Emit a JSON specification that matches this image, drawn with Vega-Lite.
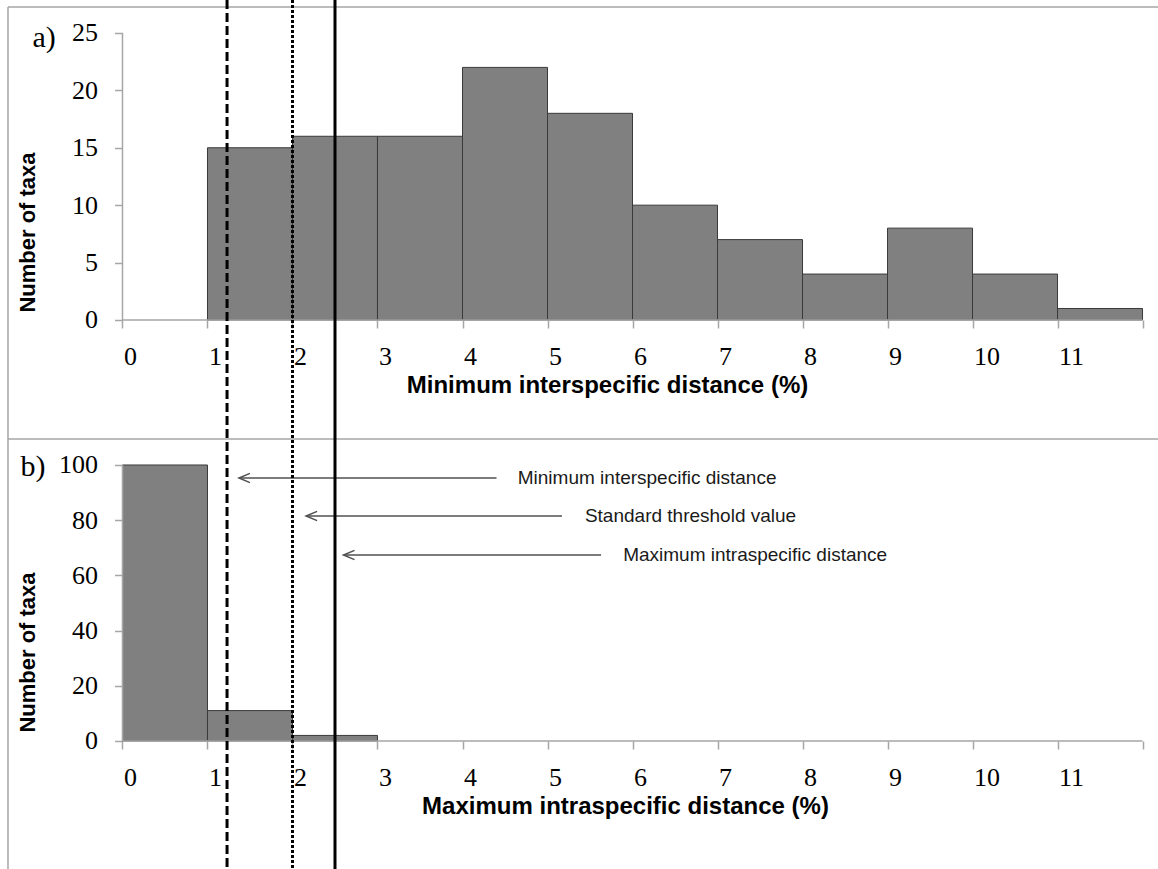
{
  "$schema": "https://vega.github.io/schema/vega-lite/v6.json",
  "width": 1158,
  "height": 869,
  "autosize": "none",
  "padding": 0,
  "background": "white",
  "config": {
    "view": {"stroke": null},
    "axis": {
      "grid": false,
      "domain": false,
      "tickColor": "#a6a6a6",
      "tickWidth": 1.5,
      "tickSize": 8,
      "labelColor": "#000000",
      "labelFont": "Liberation Serif",
      "labelFontSize": 26,
      "labelFlush": false,
      "labelOverlap": false,
      "format": "d",
      "titleFont": "Liberation Sans",
      "titleFontWeight": "bold",
      "titleColor": "#000000"
    }
  },
  "datasets": {
    "interspecific": [
      {"bin_start": 1, "bin_end": 2, "taxa": 15},
      {"bin_start": 2, "bin_end": 3, "taxa": 16},
      {"bin_start": 3, "bin_end": 4, "taxa": 16},
      {"bin_start": 4, "bin_end": 5, "taxa": 22},
      {"bin_start": 5, "bin_end": 6, "taxa": 18},
      {"bin_start": 6, "bin_end": 7, "taxa": 10},
      {"bin_start": 7, "bin_end": 8, "taxa": 7},
      {"bin_start": 8, "bin_end": 9, "taxa": 4},
      {"bin_start": 9, "bin_end": 10, "taxa": 8},
      {"bin_start": 10, "bin_end": 11, "taxa": 4},
      {"bin_start": 11, "bin_end": 12, "taxa": 1}
    ],
    "intraspecific": [
      {"bin_start": 0, "bin_end": 1, "taxa": 100},
      {"bin_start": 1, "bin_end": 2, "taxa": 11},
      {"bin_start": 2, "bin_end": 3, "taxa": 2}
    ],
    "thresholds": [
      {"name": "Minimum interspecific distance", "value": 1.23},
      {"name": "Standard threshold value", "value": 2.0},
      {"name": "Maximum intraspecific distance", "value": 2.5}
    ],
    "notes": [
      {"name": "Minimum interspecific distance", "arrow_tail": 4.4, "arrow_tip": 1.37, "text_x": 4.65, "y": 95.3},
      {"name": "Standard threshold value", "arrow_tail": 5.17, "arrow_tip": 2.16, "text_x": 5.44, "y": 81.5},
      {"name": "Maximum intraspecific distance", "arrow_tail": 5.63, "arrow_tip": 2.6, "text_x": 5.89, "y": 67.4}
    ]
  },
  "layer": [
    {
      "layer": [
        {
          "data": {"values": [{}]},
          "mark": {"type": "rule", "color": "#a6a6a6", "strokeWidth": 1.5},
          "encoding": {
            "x": {"datum": -1.347, "type": "quantitative", "scale": {"domain": [-1.441, 12.182], "nice": false, "zero": false}},
            "x2": {"datum": 12.182},
            "y": {"datum": 27.26, "type": "quantitative", "scale": {"domain": [-47.82, 27.87], "nice": false, "zero": false}}
          }
        },
        {
          "data": {"values": [{}]},
          "mark": {"type": "rule", "color": "#a6a6a6", "strokeWidth": 1.5},
          "encoding": {
            "x": {"datum": -1.347, "type": "quantitative", "scale": {"domain": [-1.441, 12.182], "nice": false, "zero": false}},
            "x2": {"datum": 12.182},
            "y": {"datum": -10.37, "type": "quantitative", "scale": {"domain": [-47.82, 27.87], "nice": false, "zero": false}}
          }
        },
        {
          "data": {"values": [{}]},
          "mark": {"type": "rule", "color": "#a6a6a6", "strokeWidth": 1.5},
          "encoding": {
            "x": {"datum": -1.347, "type": "quantitative", "scale": {"domain": [-1.441, 12.182], "nice": false, "zero": false}},
            "y": {"datum": 27.26, "type": "quantitative", "scale": {"domain": [-47.82, 27.87], "nice": false, "zero": false}},
            "y2": {"datum": -47.82}
          }
        },
        {
          "data": {"name": "interspecific"},
          "mark": {"type": "rect", "fill": "#808080", "stroke": "#3a3a3a", "strokeWidth": 1},
          "encoding": {
            "x": {
              "field": "bin_start", "type": "quantitative",
              "scale": {"domain": [-1.441, 12.182], "nice": false, "zero": false},
              "axis": {
                "orient": "bottom", "offset": -549,
                "values": [0, 1, 2, 3, 4, 5, 6, 7, 8, 9, 10, 11, 12],
                "labelExpr": "datum.value == 12 ? '' : datum.label",
                "labelAlign": "left", "labelOffset": 1, "labelPadding": 15,
                "title": "Minimum interspecific distance (%)",
                "titleFontSize": 24, "titleX": 607, "titleY": 65,
                "titleBaseline": "middle", "titleAlign": "center"
              }
            },
            "x2": {"field": "bin_end"},
            "y": {
              "field": "taxa", "type": "quantitative",
              "scale": {"domain": [-47.82, 27.87], "nice": false, "zero": false},
              "axis": {
                "orient": "left", "offset": -122.5,
                "values": [0, 5, 10, 15, 20, 25],
                "labelPadding": 17,
                "title": "Number of taxa",
                "titleFontSize": 22, "titleAngle": 270, "titleBaseline": "middle", "titleAlign": "center",
                "titleX": -95.5, "titleY": 232
              }
            },
            "y2": {"datum": 0}
          }
        },
        {
          "data": {"values": [{}]},
          "mark": {"type": "rule", "color": "#a6a6a6", "strokeWidth": 1.5},
          "encoding": {
            "x": {"datum": 0, "type": "quantitative", "scale": {"domain": [-1.441, 12.182], "nice": false, "zero": false}},
            "y": {"datum": 0, "type": "quantitative", "scale": {"domain": [-47.82, 27.87], "nice": false, "zero": false}},
            "y2": {"datum": 25}
          }
        },
        {
          "data": {"values": [{}]},
          "mark": {"type": "rule", "color": "#a6a6a6", "strokeWidth": 1.5},
          "encoding": {
            "x": {"datum": 0, "type": "quantitative", "scale": {"domain": [-1.441, 12.182], "nice": false, "zero": false}},
            "x2": {"datum": 12},
            "y": {"datum": 0, "type": "quantitative", "scale": {"domain": [-47.82, 27.87], "nice": false, "zero": false}}
          }
        },
        {
          "data": {"values": [{"panel": "a)"}]},
          "mark": {"type": "text", "font": "Liberation Serif", "fontSize": 30, "align": "left", "baseline": "middle", "color": "#000000"},
          "encoding": {
            "x": {"datum": -1.06, "type": "quantitative", "scale": {"domain": [-1.441, 12.182], "nice": false, "zero": false}},
            "y": {"datum": 24.6, "type": "quantitative", "scale": {"domain": [-47.82, 27.87], "nice": false, "zero": false}},
            "text": {"field": "panel"}
          }
        }
      ]
    },
    {
      "layer": [
        {
          "data": {"name": "intraspecific"},
          "mark": {"type": "rect", "fill": "#808080", "stroke": "#3a3a3a", "strokeWidth": 1},
          "encoding": {
            "x": {
              "field": "bin_start", "type": "quantitative",
              "scale": {"domain": [-1.441, 12.182], "nice": false, "zero": false},
              "axis": {
                "orient": "bottom", "offset": -128,
                "values": [0, 1, 2, 3, 4, 5, 6, 7, 8, 9, 10, 11, 12],
                "labelExpr": "datum.value == 12 ? '' : datum.label",
                "labelAlign": "left", "labelOffset": 1, "labelPadding": 15,
                "title": "Maximum intraspecific distance (%)",
                "titleFontSize": 24, "titleX": 625, "titleY": 65,
                "titleBaseline": "middle", "titleAlign": "center"
              }
            },
            "x2": {"field": "bin_end"},
            "y": {
              "field": "taxa", "type": "quantitative",
              "scale": {"domain": [-46.4, 268.5], "nice": false, "zero": false},
              "axis": {
                "orient": "left", "offset": -122.5,
                "values": [0, 20, 40, 60, 80, 100],
                "labelPadding": 17,
                "title": "Number of taxa",
                "titleFontSize": 22, "titleAngle": 270, "titleBaseline": "middle", "titleAlign": "center",
                "titleX": -95.5, "titleY": 652
              }
            },
            "y2": {"datum": 0}
          }
        },
        {
          "data": {"values": [{}]},
          "mark": {"type": "rule", "color": "#a6a6a6", "strokeWidth": 1.5},
          "encoding": {
            "x": {"datum": 0, "type": "quantitative", "scale": {"domain": [-1.441, 12.182], "nice": false, "zero": false}},
            "y": {"datum": 0, "type": "quantitative", "scale": {"domain": [-46.4, 268.5], "nice": false, "zero": false}},
            "y2": {"datum": 100}
          }
        },
        {
          "data": {"values": [{}]},
          "mark": {"type": "rule", "color": "#a6a6a6", "strokeWidth": 1.5},
          "encoding": {
            "x": {"datum": 0, "type": "quantitative", "scale": {"domain": [-1.441, 12.182], "nice": false, "zero": false}},
            "x2": {"datum": 12},
            "y": {"datum": 0, "type": "quantitative", "scale": {"domain": [-46.4, 268.5], "nice": false, "zero": false}}
          }
        },
        {
          "data": {"values": [{"panel": "b)"}]},
          "mark": {"type": "text", "font": "Liberation Serif", "fontSize": 30, "align": "left", "baseline": "middle", "color": "#000000"},
          "encoding": {
            "x": {"datum": -1.2, "type": "quantitative", "scale": {"domain": [-1.441, 12.182], "nice": false, "zero": false}},
            "y": {"datum": 99.3, "type": "quantitative", "scale": {"domain": [-46.4, 268.5], "nice": false, "zero": false}},
            "text": {"field": "panel"}
          }
        },
        {
          "data": {"name": "notes"},
          "mark": {"type": "rule", "color": "#505050", "strokeWidth": 1.5},
          "encoding": {
            "x": {"field": "arrow_tip", "type": "quantitative", "scale": {"domain": [-1.441, 12.182], "nice": false, "zero": false}},
            "x2": {"field": "arrow_tail"},
            "y": {"field": "y", "type": "quantitative", "scale": {"domain": [-46.4, 268.5], "nice": false, "zero": false}}
          }
        },
        {
          "data": {"name": "notes"},
          "mark": {"type": "point", "shape": "M 1.9 -0.8 L 0 0 L 1.9 0.8", "size": 134, "filled": false, "stroke": "#505050", "strokeWidth": 1.5, "opacity": 1},
          "encoding": {
            "x": {"field": "arrow_tip", "type": "quantitative", "scale": {"domain": [-1.441, 12.182], "nice": false, "zero": false}},
            "y": {"field": "y", "type": "quantitative", "scale": {"domain": [-46.4, 268.5], "nice": false, "zero": false}}
          }
        },
        {
          "data": {"name": "notes"},
          "mark": {"type": "text", "font": "Liberation Sans", "fontSize": 19, "align": "left", "baseline": "middle", "color": "#1a1a1a"},
          "encoding": {
            "x": {"field": "text_x", "type": "quantitative", "scale": {"domain": [-1.441, 12.182], "nice": false, "zero": false}},
            "y": {"field": "y", "type": "quantitative", "scale": {"domain": [-46.4, 268.5], "nice": false, "zero": false}},
            "text": {"field": "name"}
          }
        }
      ]
    },
    {
      "data": {"name": "thresholds"},
      "mark": {"type": "rule", "strokeWidth": 3, "color": "#000000"},
      "encoding": {
        "x": {"field": "value", "type": "quantitative", "scale": {"domain": [-1.441, 12.182], "nice": false, "zero": false}, "axis": null},
        "strokeDash": {
          "field": "name", "type": "nominal",
          "scale": {"domain": ["Minimum interspecific distance", "Standard threshold value", "Maximum intraspecific distance"], "range": [[9, 4], [3, 2], [1, 0]]},
          "legend": null
        }
      }
    }
  ],
  "resolve": {
    "scale": {"x": "independent", "y": "independent"},
    "axis": {"x": "independent", "y": "independent"}
  }
}
